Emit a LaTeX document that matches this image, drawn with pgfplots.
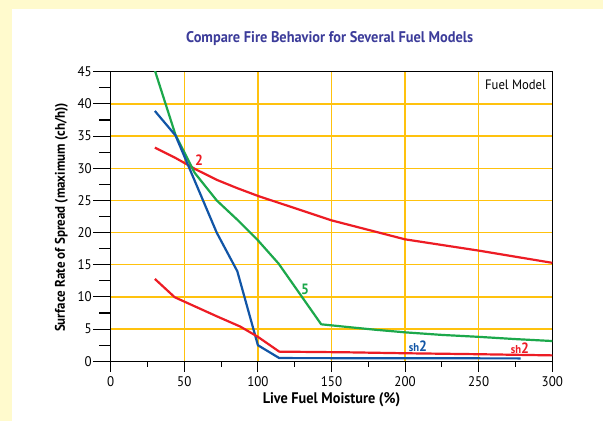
\documentclass[border=0pt]{standalone}
\usepackage{fontspec}
\setmainfont{PT Sans}[FakeStretch=0.93]
\usepackage{pgfplots}
\pgfplotsset{compat=1.18}
\definecolor{bgyellow}{HTML}{FFFACD}
\definecolor{gridgold}{HTML}{FFC20E}
\definecolor{titleblue}{HTML}{3C3C9A}
\definecolor{cred}{HTML}{ED1C24}
\definecolor{cgreen}{HTML}{1CA84B}
\definecolor{cblue}{HTML}{1155A6}
\begin{document}
\begin{tikzpicture}
\fill[bgyellow] (-110.7bp,-59.7bp) rectangle (492.3bp,361.3bp);
\fill[white] (-98.7bp,-59.7bp) rectangle (492.3bp,352.3bp);
\useasboundingbox (-110.7bp,-59.7bp) rectangle (492.3bp,361.3bp);
\begin{axis}[
  at={(0,0)}, anchor=south west,
  scale only axis, width=441.6bp, height=289.6bp,
  xmin=0, xmax=300, ymin=0, ymax=45,
  xtick={0,50,...,300}, ytick={0,5,...,45},
  minor x tick num=1, minor y tick num=1,
  tick align=inside, tick pos=left,
  xtick style={/pgfplots/major tick length=-11bp, /pgfplots/minor tick length=-6bp},
  ytick style={/pgfplots/major tick length=-17.4bp, /pgfplots/minor tick length=-11.4bp},
  xticklabel style={yshift=-11.4bp},
  yticklabel style={xshift=-15.4bp},
  xmajorgrids, ymajorgrids,
  grid style={color=gridgold, line width=1.3bp},
  axis line style={line width=1.3bp, black},
  tick style={black, line width=1.1bp},
  /pgf/number format/assume math mode=true,
  ticklabel style={font=\fontsize{14}{16}\selectfont},
  every axis title shift=0pt,
  title={Compare Fire Behavior for Several Fuel Models},
  title style={at={(axis description cs:0.496,1.115)}, anchor=center, yshift=0pt,
    font=\bfseries\fontsize{15.5}{17}\selectfont, text=titleblue},
  xlabel={Live Fuel Moisture (\%)},
  xlabel style={at={(axis description cs:0.5,-0.1336)}, anchor=center,
    font=\bfseries\fontsize{15.4}{17}\selectfont},
  ylabel={Surface Rate of Spread (maximum (ch/h))},
  ylabel style={at={(axis description cs:-0.1114,0.4966)}, anchor=center,
    font=\bfseries\fontsize{14}{16}\selectfont},
  every axis plot/.append style={line width=2.2bp, line join=round, no markers},
]
% Fuel model 2 (red, upper)
\addplot[cred] coordinates {
 (30,33.2) (44,31.6) (58,29.8) (72,28.2) (86,26.9) (100,25.7)
 (150,21.9) (200,18.95) (250,17.2) (300,15.3)};
% Fuel model 5 (green)
\addplot[cgreen] coordinates {
 (30,45.2) (44,35.2) (57,29.3) (72,25.0) (86,22.0) (100,18.8) (114,15.2)
 (143,5.75) (160,5.35) (180,4.9) (200,4.5) (225,4.1) (250,3.8) (275,3.45) (300,3.15)};
% Fuel model sh2 (blue)
\addplot[cblue] coordinates {
 (30,38.9) (44,35.1) (72,20.0) (86,14.0) (100,2.5) (114.5,0.5) (278.5,0.45)};
% Fuel model sh2 (red, lower)
\addplot[cred] coordinates {
 (30,12.8) (43.5,9.95) (72,7.0) (88,5.4) (100,3.8) (114.5,1.5)
 (160,1.4) (200,1.25) (250,1.1) (300,0.92)};
\node[text=cred, font=\bfseries\fontsize{15}{15}\selectfont] at (axis cs:60,31.3) {2};
\node[text=cgreen, font=\bfseries\fontsize{15}{15}\selectfont] at (axis cs:132,11.1) {5};
\node[text=cblue, font=\bfseries\fontsize{15}{15}\selectfont] at (axis cs:208.7,2.3) {{\fontsize{11.5}{11.5}\selectfont sh}2};
\node[text=cred, font=\bfseries\fontsize{15}{15}\selectfont] at (axis cs:278,2.05) {{\fontsize{11.5}{11.5}\selectfont sh}2};
\node[font=\fontsize{13.7}{15}\selectfont] at (axis cs:275,43) {Fuel Model};
\end{axis}
\end{tikzpicture}
\end{document}
